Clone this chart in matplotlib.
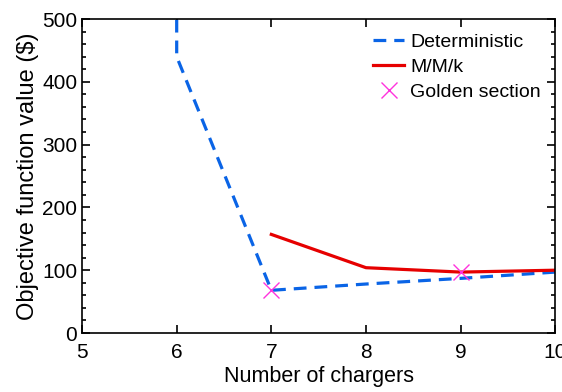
import numpy as np
import matplotlib
matplotlib.use("Agg")
from matplotlib import pyplot as plt
from matplotlib.ticker import MultipleLocator

plt.rcParams['font.family'] = ['Liberation Sans', 'DejaVu Sans']

# data
det_x = [6, 6, 7, 8, 9, 10]
det_y = [1000, 440, 68, 78, 87, 97]
mmk_x = [7, 8, 9, 10]
mmk_y = [157, 104, 97, 100]
gold_x = [7, 9]
gold_y = [68, 97]

fig = plt.figure(figsize=(5.62, 3.92), dpi=100)
ax = fig.add_axes([0.146, 0.1505, 0.842, 0.801])

ax.plot(det_x, det_y, '--', color='#0a64e6', lw=2.3, dashes=(4, 2.5), label='Deterministic')
ax.plot(mmk_x, mmk_y, '-', color='#e60000', lw=2.3, label='M/M/k')
ax.plot(gold_x, gold_y, 'x', color='#ff33dd', ms=11, mew=1, ls='none', label='Golden section')

ax.set_xlim(5, 10)
ax.set_ylim(0, 500)
ax.xaxis.set_major_locator(MultipleLocator(1))
ax.yaxis.set_major_locator(MultipleLocator(100))
ax.yaxis.set_minor_locator(MultipleLocator(20))
ax.tick_params(which='both', direction='in', top=True, right=True, labelsize=15, width=1.2)
ax.tick_params(which='major', length=6)
ax.tick_params(which='minor', length=3)
ax.tick_params(axis='x', which='minor', top=False, bottom=False)
ax.tick_params(axis='x', pad=7)
for s in ax.spines.values():
    s.set_linewidth(1.2)

ax.set_xlabel('Number of chargers', fontsize=15.5, labelpad=3)
ax.set_ylabel('Objective function value ($)', fontsize=17, labelpad=2)

ax.legend(loc='upper right', frameon=False, fontsize=14, handlelength=1.6,
          handletextpad=0.3, labelspacing=0.38, borderaxespad=0.45, borderpad=0.3)

fig.savefig('out.png', dpi=100)
